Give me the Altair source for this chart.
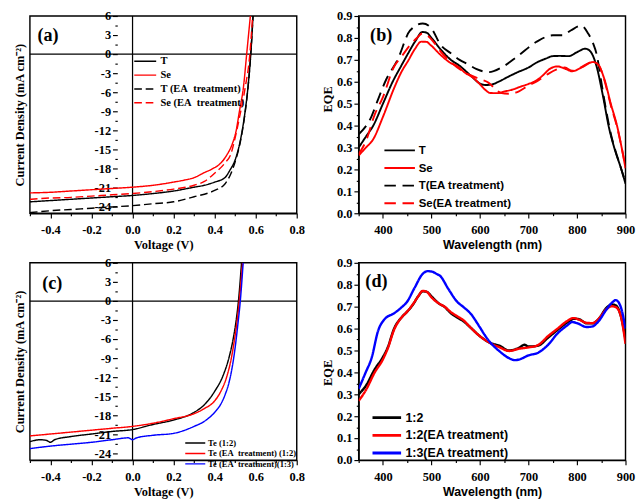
import altair as alt
import pandas as pd

SERIF = "Liberation Serif"
SANS = "Liberation Sans"

# ---------------- Panel (a): J-V curves ----------------
A_NAMES = ["T", "Se", "T (EA\u00a0 treatment)", "Se (EA\u00a0 treatment)"]
A_T_V = [-0.5, -0.4, -0.3, -0.2, -0.1, 0.0, 0.1, 0.2, 0.3, 0.35, 0.4, 0.45, 0.475, 0.5, 0.525, 0.548, 0.563, 0.576, 0.587]
A_T_J = [-23.2, -23.0, -22.8, -22.6, -22.4, -22.2, -21.9, -21.5, -20.9, -20.6, -20.1, -19.4, -18.2, -16.6, -13.6, -9.1, -5.0, 0.0, 6.0]
A_SE_V = [-0.5, -0.4, -0.3, -0.2, -0.1, 0.0, 0.1, 0.2, 0.25, 0.3, 0.35, 0.39, 0.43, 0.46, 0.486, 0.505, 0.52, 0.541, 0.556, 0.574]
A_SE_J = [-21.8, -21.7, -21.5, -21.3, -21.1, -20.9, -20.6, -20.1, -19.8, -19.4, -18.6, -18.0, -17.1, -15.8, -14.1, -12.0, -9.1, -5.0, 0.0, 6.0]
A_TEA_V = [-0.5, -0.4, -0.3, -0.2, -0.1, 0.0, 0.1, 0.2, 0.3, 0.4, 0.45, 0.48, 0.5, 0.525, 0.548, 0.563, 0.576, 0.587]
A_TEA_J = [-24.9, -24.6, -24.4, -24.2, -24.0, -23.8, -23.5, -23.2, -22.4, -21.4, -20.4, -18.7, -16.9, -13.8, -9.3, -5.1, 0.0, 6.0]
A_SEEA_V = [-0.5, -0.4, -0.3, -0.2, -0.1, 0.0, 0.1, 0.2, 0.3, 0.35, 0.4, 0.45, 0.48, 0.5, 0.52, 0.55, 0.57, 0.585]
A_SEEA_J = [-22.8, -22.6, -22.5, -22.3, -22.1, -21.9, -21.6, -21.2, -20.6, -20.0, -18.7, -17.1, -15.6, -13.1, -10.1, -5.0, -0.5, 6.0]

# ---------------- Panel (b): EQE ----------------
B_NAMES = ["T", "Se", "T(EA treatment)", "Se(EA treatment)"]
B_T_W = [350, 365, 380, 400, 420, 437, 452, 468, 481, 490, 500, 520, 540, 558, 580, 600, 612, 625, 638, 660, 678, 700, 717, 735, 750, 765, 783, 800, 817, 827, 840, 853, 866, 878, 890, 900]
B_T_E = [0.30, 0.35, 0.40, 0.50, 0.60, 0.67, 0.73, 0.79, 0.827, 0.824, 0.80, 0.745, 0.70, 0.673, 0.63, 0.592, 0.585, 0.588, 0.60, 0.625, 0.644, 0.665, 0.688, 0.705, 0.717, 0.718, 0.717, 0.735, 0.751, 0.74, 0.673, 0.541, 0.39, 0.29, 0.21, 0.135]
B_SE_W = [350, 365, 380, 400, 423, 437, 453, 466, 479, 490, 498, 520, 540, 552, 570, 585, 598, 610, 621, 635, 651, 668, 684, 700, 717, 730, 744, 760, 775, 790, 810, 833, 843, 856, 870, 883, 892, 900]
B_SE_E = [0.264, 0.30, 0.338, 0.44, 0.571, 0.64, 0.70, 0.75, 0.783, 0.782, 0.768, 0.72, 0.685, 0.673, 0.64, 0.62, 0.593, 0.565, 0.549, 0.548, 0.556, 0.565, 0.578, 0.59, 0.607, 0.63, 0.659, 0.67, 0.66, 0.648, 0.666, 0.69, 0.68, 0.615, 0.497, 0.395, 0.30, 0.205]
B_TEA_W = [350, 376, 390, 406, 430, 456, 482, 498, 520, 540, 558, 575, 592, 618, 645, 678, 717, 750, 770, 787, 809, 823, 833, 841, 850, 860, 870, 880, 890, 900]
B_TEA_E = [0.36, 0.44, 0.52, 0.607, 0.70, 0.834, 0.866, 0.849, 0.765, 0.73, 0.70, 0.68, 0.659, 0.644, 0.666, 0.717, 0.783, 0.812, 0.812, 0.834, 0.856, 0.82, 0.776, 0.72, 0.60, 0.47, 0.36, 0.28, 0.21, 0.14]
B_SEEA_W = [350, 365, 383, 400, 422, 440, 455, 470, 481, 492, 505, 520, 540, 560, 580, 600, 618, 630, 642, 660, 677, 700, 717, 740, 757, 775, 790, 810, 833, 845, 856, 870, 883, 892, 900]
B_SEEA_E = [0.27, 0.33, 0.45, 0.53, 0.665, 0.72, 0.765, 0.80, 0.82, 0.81, 0.78, 0.735, 0.69, 0.655, 0.63, 0.612, 0.595, 0.57, 0.55, 0.545, 0.553, 0.583, 0.602, 0.635, 0.655, 0.665, 0.65, 0.668, 0.692, 0.675, 0.61, 0.49, 0.39, 0.30, 0.21]

# ---------------- Panel (c): J-V curves ----------------
C_NAMES = ["Te (1:2)", "Te (EA\u00a0 treatment) (1:2)", "Te (EA\u00a0 treatment)(1:3)"]
C_B_V = [-0.5, -0.45, -0.42, -0.4, -0.38, -0.3, -0.2, -0.1, 0.0, 0.1, 0.2, 0.3, 0.35, 0.4, 0.44, 0.469, 0.49, 0.505, 0.516, 0.531]
C_B_J = [-22.1, -21.8, -21.9, -22.2, -21.8, -21.3, -20.9, -20.5, -20.2, -19.4, -18.7, -17.5, -16.3, -14.2, -11.8, -9.0, -6.0, -3.0, 0.0, 6.0]
C_R_V = [-0.5, -0.4, -0.3, -0.2, -0.1, 0.0, 0.1, 0.2, 0.3, 0.35, 0.4, 0.43, 0.458, 0.48, 0.497, 0.51, 0.52, 0.536]
C_R_J = [-21.2, -20.9, -20.6, -20.3, -20.0, -19.7, -19.2, -18.5, -17.7, -16.9, -15.7, -14.2, -12.0, -9.2, -6.0, -3.0, 0.0, 6.0]
C_BL_V = [-0.5, -0.4, -0.3, -0.2, -0.1, -0.02, 0.0, 0.02, 0.1, 0.2, 0.3, 0.35, 0.4, 0.43, 0.45, 0.47, 0.485, 0.5, 0.512, 0.525, 0.539]
C_BL_J = [-23.2, -22.8, -22.5, -22.2, -21.8, -21.5, -21.8, -21.5, -21.1, -20.8, -19.7, -18.9, -17.5, -16.2, -14.8, -12.8, -10.5, -7.3, -4.0, 0.0, 6.0]

# ---------------- Panel (d): EQE ----------------
D_NAMES = ["1:2", "1:2(EA treatment)", "1:3(EA treatment)"]
D_B_W = [350, 365, 383, 400, 410, 423, 440, 449, 462, 472, 482, 490, 501, 515, 527, 540, 554, 565, 580, 600, 620, 640, 660, 680, 692, 700, 720, 740, 760, 780, 795, 805, 820, 832, 845, 860, 872, 880, 890, 900]
D_B_E = [0.30, 0.34, 0.414, 0.47, 0.515, 0.60, 0.655, 0.675, 0.71, 0.745, 0.77, 0.768, 0.745, 0.715, 0.699, 0.67, 0.649, 0.635, 0.606, 0.565, 0.536, 0.522, 0.50, 0.512, 0.526, 0.518, 0.522, 0.558, 0.594, 0.628, 0.645, 0.642, 0.624, 0.624, 0.645, 0.693, 0.71, 0.706, 0.66, 0.55]
D_R_W = [350, 365, 383, 400, 410, 423, 440, 449, 462, 472, 482, 490, 501, 515, 527, 540, 554, 565, 580, 600, 620, 640, 660, 680, 700, 720, 740, 760, 780, 792, 805, 820, 832, 845, 860, 872, 880, 890, 900]
D_R_E = [0.27, 0.32, 0.40, 0.46, 0.51, 0.595, 0.655, 0.675, 0.712, 0.745, 0.772, 0.768, 0.74, 0.715, 0.70, 0.675, 0.655, 0.64, 0.606, 0.565, 0.535, 0.515, 0.498, 0.508, 0.514, 0.525, 0.565, 0.60, 0.635, 0.648, 0.64, 0.626, 0.625, 0.645, 0.687, 0.702, 0.698, 0.66, 0.53]
D_BL_W = [350, 364, 377, 390, 403, 423, 440, 449, 465, 482, 492, 501, 510, 518, 535, 554, 565, 580, 600, 610, 620, 640, 660, 672, 682, 700, 720, 740, 760, 780, 790, 800, 820, 832, 845, 860, 872, 880, 890, 900]
D_BL_E = [0.325, 0.398, 0.469, 0.59, 0.642, 0.67, 0.70, 0.72, 0.785, 0.85, 0.862, 0.86, 0.85, 0.84, 0.78, 0.72, 0.70, 0.67, 0.605, 0.57, 0.54, 0.497, 0.465, 0.456, 0.46, 0.478, 0.49, 0.525, 0.578, 0.615, 0.63, 0.625, 0.607, 0.61, 0.635, 0.685, 0.718, 0.73, 0.70, 0.60]

JV_X_TICKS = [round(-0.5 + 0.1 * i, 1) for i in range(14)]
JV_Y_TICKS = [-24 + 1.5 * i for i in range(21)]
EQE_X_TICKS = [350 + 50 * i for i in range(12)]
EQE_Y_TICKS = [round(0.05 * i, 2) for i in range(19)]

W, H = 280, 207
X0 = W * 0.5 / 1.3          # pixel position of V = 0 inside the J-V plots
AXIS_SHIFT = 16             # extra shift Vega applies to an inward-offset axis
X_LABEL_PAD = 6


def frame(names, xs, ys):
    rows = []
    for n, xv, yv in zip(names, xs, ys):
        for a, b in zip(xv, yv):
            rows.append({"s": n, "x": a, "y": b})
    return pd.DataFrame(rows)


def tick_size(test, major=5, minor=2.5):
    return {"condition": {"test": test, "value": major}, "value": minor}


def jv_axes():
    xt = "abs(round(datum.value*10)) % 2 == 0"
    xa = alt.Axis(values=JV_X_TICKS, title="Voltage (V)", titleFont=SERIF, labelPadding=X_LABEL_PAD,
                  titlePadding=3,
                  labelExpr=f"{xt} ? (datum.value < -0.001 ? '-' : '') + format(abs(datum.value), '.1f') : ''",
                  tickSize=tick_size(xt))
    yt = "datum.value % 3 == 0"
    ya = alt.Axis(values=JV_Y_TICKS, title="Current Density (mA cm\u207b\u00b2)", titleFont=SERIF,
                  labelExpr=f"{yt} ? (datum.value < 0 ? '-' : '') + format(abs(datum.value), 'd') : ''",
                  tickSize=tick_size(yt), offset=-(X0 - AXIS_SHIFT), titleX=-X0 + 12, domain=False)
    return xa, ya


def eqe_axes(title_y):
    xt = "datum.value % 100 == 0"
    xa = alt.Axis(values=EQE_X_TICKS, title="Wavelength (nm)", titleFont=SANS, labelPadding=X_LABEL_PAD,
                  titlePadding=3,
                  labelExpr=f"{xt} ? format(datum.value, 'd') : ''", tickSize=tick_size(xt))
    yt = "round(datum.value*100) % 10 == 0"
    ya = alt.Axis(values=EQE_Y_TICKS, title="EQE", titleFont=SERIF,
                  labelExpr=f"{yt} ? format(datum.value, '.1f') : ''", tickSize=tick_size(yt),
                  titleY=title_y)
    return xa, ya


def panel(df, names, colors, dashes, xdom, ydom, axes, legend, sw, label, lx, ly, zero):
    xa, ya = axes
    xs = alt.Scale(domain=xdom, nice=False, zero=False)
    ys = alt.Scale(domain=ydom, nice=False, zero=False)
    lines = alt.Chart(df).mark_line(interpolate="monotone", clip=True, strokeWidth=sw).encode(
        x=alt.X("x:Q", scale=xs, axis=xa),
        y=alt.Y("y:Q", scale=ys, axis=ya),
        color=alt.Color("s:N", scale=alt.Scale(domain=names, range=colors), sort=names, legend=legend),
        strokeDash=alt.StrokeDash("s:N", scale=alt.Scale(domain=names, range=dashes), sort=names, legend=legend),
    )
    layers = []
    if zero:
        layers.append(alt.Chart(pd.DataFrame({"y": [0]})).mark_rule(color="black", strokeWidth=1.3).encode(
            y=alt.Y("y:Q", scale=ys, axis=ya)))
        layers.append(alt.Chart(pd.DataFrame({"x": [0]})).mark_rule(color="black", strokeWidth=1.3).encode(
            x=alt.X("x:Q", scale=xs, axis=xa)))
    layers.append(lines)
    layers.append(alt.Chart(pd.DataFrame({"t": [label]})).mark_text(
        font=SERIF, fontWeight="bold", fontSize=19, align="left", baseline="middle", color="black"
    ).encode(text="t:N", x=alt.value(lx), y=alt.value(ly)))
    return alt.layer(*layers).properties(width=W, height=H)


def leg(x, y, font, size, length, sw, rowpad, gap):
    s = 8.0
    k = 2 * length / s - 1
    return alt.Legend(orient="none", legendX=x, legendY=y, title=None,
                      symbolType=f"M-1,0L{k:.3f},0", symbolSize=s * s,
                      symbolStrokeWidth=sw, symbolFillColor="transparent",
                      labelFont=font, labelFontSize=size,
                      labelFontWeight="bold", labelColor="black", rowPadding=rowpad,
                      labelOffset=length + gap - s, labelLimit=400, padding=0)


SOLID = [1, 0]
pa = panel(frame(A_NAMES, [A_T_V, A_SE_V, A_TEA_V, A_SEEA_V], [A_T_J, A_SE_J, A_TEA_J, A_SEEA_J]),
           A_NAMES, ["#000000", "#ff0000", "#000000", "#ff0000"], [SOLID, SOLID, [8, 4], [8, 4]],
           [-0.5, 0.8], [-25, 6], jv_axes(), leg(108, 42, SERIF, 11, 23, 1.5, 2.5, 3), 1.5, "(a)", 8, 20, True)

pb = panel(frame(B_NAMES, [B_T_W, B_SE_W, B_TEA_W, B_SEEA_W], [B_T_E, B_SE_E, B_TEA_E, B_SEEA_E]),
           B_NAMES, ["#000000", "#ff0000", "#000000", "#ff0000"], [SOLID, SOLID, [12, 7], [12, 7]],
           [350, 900], [0, 0.9], eqe_axes(87), leg(25, 135, SANS, 12, 32, 2, 6.5, 2), 2, "(b)", 12, 20, False)

pc = panel(frame(C_NAMES, [C_B_V, C_R_V, C_BL_V], [C_B_J, C_R_J, C_BL_J]),
           C_NAMES, ["#000000", "#ff0000", "#0000ff"], [SOLID, SOLID, SOLID],
           [-0.5, 0.8], [-25, 6], jv_axes(), leg(162, 184, SERIF, 9, 21, 1.5, 1, 2), 1.5, "(c)", 13, 21, True)

pdd = panel(frame(D_NAMES, [D_B_W, D_R_W, D_BL_W], [D_B_E, D_R_E, D_BL_E]),
            D_NAMES, ["#000000", "#ff0000", "#0000ff"], [SOLID, SOLID, SOLID],
            [350, 900], [0, 0.9], eqe_axes(115), leg(12, 156, SANS, 13, 30, 3, 4.5, 2), 2.5, "(d)", 7, 19, False)

chart = alt.concat(pa, pb, pc, pdd, columns=2, spacing={"row": 4, "column": 17}).resolve_scale(
    color="independent", strokeDash="independent"
).properties(
    padding={"left": 5, "top": -11, "right": 0, "bottom": 0}
).configure_view(stroke="black", strokeWidth=1.5).configure_axis(
    labelFont=SERIF, labelFontWeight="bold", labelFontSize=13, labelColor="black",
    titleFontWeight="bold", titleFontSize=13, titleColor="black",
    domainColor="black", tickColor="black", domainWidth=1.3, tickWidth=1.2, grid=False,
    labelFlush=False, labelOverlap=False, labelPadding=2, titlePadding=2,
)

chart.save("out.html", embed_options={"renderer": "svg", "actions": False})
